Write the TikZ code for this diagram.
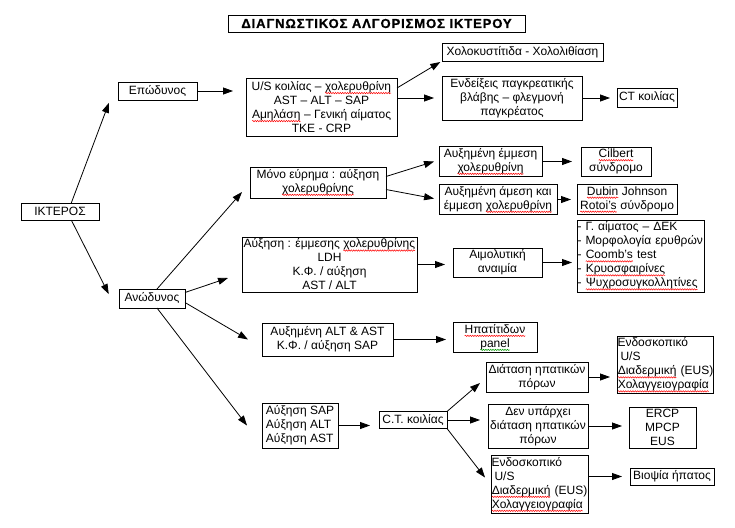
\documentclass[tikz,border=0pt]{standalone}
\usepackage{fontspec}
\setmainfont{Liberation Sans}
\newfontfamily\titlefont[LetterSpace=7, FakeBold=1]{Liberation Sans Bold}
\usepackage{xcolor}
\usepackage{tikz}
\usetikzlibrary{arrows.meta, decorations.pathmorphing}
\newcommand\spk[2][red]{\tikz[baseline=(w.base), every node/.style={}, x=1pt, y=1pt]{%
    \node [inner sep=0pt, outer sep=0pt, draw=none, minimum width=0pt, minimum height=0pt, text width=, align=none] (w) {#2};%
    \draw [#1, line width=0.5pt, decorate, decoration={snake, amplitude=0.7pt, segment length=2.4pt}]
        ([yshift=-2.6pt]w.base west) -- ([yshift=-2.6pt]w.base east);}}
\tikzset{
    box/.style = {
        draw,
        line width = 0.9pt,
        inner sep  = 1.5pt,
        outer sep  = 0pt,
        align      = center,
        font       = \fontsize{12}{14}\selectfont,
    },
    lbox/.style = {
        box,
        inner xsep = 0.5pt,
        align      = left,
    },
    arr/.style = {
        -{Triangle[length=10pt, width=7pt]},
        line width = 0.8pt,
    },
}
\begin{document}
\begin{tikzpicture}[x=1pt, y=-1pt, every node/.style = {box}]
        \useasboundingbox (0, 0) rectangle (735, 527);

        \node at (376.5, 23.5) (title) [minimum width=297pt, minimum height=17pt, font=\titlefont\fontsize{13}{15}\selectfont] {ΔΙΑΓΝΩΣΤΙΚΟΣ ΑΛΓΟΡΙΣΜΟΣ ΙΚΤΕΡΟΥ};

        \node at (60, 211.5) (ikt) [minimum width=78pt, minimum height=17pt] {ΙΚΤΕΡΟΣ};
        \node at (157.5, 91) (epod) [minimum width=79pt, minimum height=18pt] {Επώδυνος};
        \node at (152, 298.5) (anod) [minimum width=66pt, minimum height=19pt] {Ανώδυνος};

        % painful branch
        \node at (321.5, 107) (us) [minimum width=151pt, minimum height=58pt] {U/S κοιλίας – \spk{χολερυθρίνη}\\AST – ALT – SAP\\\spk{Αμηλάση} – Γενική αίματος\\ΤΚΕ - CRP};
        \node at (522.5, 52) (cholo) [minimum width=161pt, minimum height=18pt] {Χολοκυστίτιδα - Χολολιθίαση};
        \node at (512, 98) (pagk) [minimum width=140pt, minimum height=44pt] {Ενδείξεις παγκρεατικής\\βλάβης – φλεγμονή\\παγκρέατος};
        \node at (647, 97.5) (ct) [minimum width=60pt, minimum height=19pt] {CT κοιλίας};

        % painless branch
        \node at (318, 182.5) (mono) [minimum width=136pt, minimum height=31pt] {Μόνο εύρημα : αύξηση\\\spk{χολερυθρίνης}};
        \node at (490.5, 161.5) (emm) [minimum width=103pt, minimum height=29pt] {Αυξημένη έμμεση\\\spk{χολερυθρίνη}};
        \node at (498, 199.5) (amm) [minimum width=118pt, minimum height=27pt] {Αυξημένη άμεση και\\έμμεση \spk{χολερυθρίνη}};
        \node at (616, 161.5) (gilb) [minimum width=70pt, minimum height=29pt] {\spk{Cilbert}\\σύνδρομο};
        \node at (627, 199.5) (dubin) [minimum width=100pt, minimum height=27pt] {\spk{Dubin} Johnson\\\spk{Rotoi's} σύνδρομο};

        \node at (329.5, 264.5) (ayx) [minimum width=175pt, minimum height=55pt] {Αύξηση : έμμεσης \spk{χολερυθρίνης}\\LDH\\Κ.Φ. / αύξηση\\AST / ALT};
        \node at (497.5, 262.5) (aimol) [minimum width=89pt, minimum height=29pt] {Αιμολυτική\\αναιμία};
        \node at (640.5, 256) (tests) [lbox, text width=126pt, minimum height=72pt] {-~Γ.~αίματος~–~ΔΕΚ\\-~Μορφολογία~ερυθρών\\-~\spk{Coomb's}~test\\-~\spk{Κρυοσφαιρίνες}\\-~\spk{Ψυχροσυγκολλητίνες}};

        \node at (327.5, 339.5) (alt) [minimum width=131pt, minimum height=33pt] {Αυξημένη ALT \& AST\\Κ.Φ. / αύξηση SAP};
        \node at (495, 337.5) (hep) [minimum width=84pt, minimum height=29pt] {\spk{Ηπατίτιδων}\\\spk[green!60!black]{panel}};

        \node at (300, 425.5) (sap) [lbox, minimum width=76pt, minimum height=45pt] {Αύξηση SAP\\Αύξηση ALT\\Αύξηση AST};
        \node at (413, 420) (ctk) [minimum width=68pt, minimum height=17pt] {C.T. κοιλίας};

        \node at (537, 377) (diat) [minimum width=102pt, minimum height=30pt] {Διάταση ηπατικών\\πόρων};
        \node at (538, 426) (den) [minimum width=100pt, minimum height=44pt] {Δεν υπάρχει\\διάταση ηπατικών\\πόρων};
        \node at (539.5, 484.5) (endo2) [lbox, text width=96pt, minimum height=55pt] {Ενδοσκοπικό\\\hspace{3pt}U/S\\\spk{Διαδερμική}~(EUS)\\\spk{Χολαγγειογραφία}};

        \node at (665, 365) (endo1) [lbox, text width=95pt, minimum height=54pt] {Ενδοσκοπικό\\\hspace{3pt}U/S\\\spk{Διαδερμική}~(EUS)\\\spk{Χολαγγειογραφία}};
        \node at (662.5, 427.5) (ercp) [minimum width=67pt, minimum height=41pt] {ERCP\\MPCP\\EUS};
        \node at (672, 476.5) (biop) [minimum width=84pt, minimum height=17pt] {Βιοψία ήπατος};

        \draw [arr, shorten >=3pt] (ikt.37) -- ([xshift=-8pt]epod.south west);
        \draw [arr, shorten >=5pt] (ikt.-37) -- ([xshift=-8pt]anod.west);

        \draw [arr, shorten >=13pt] (epod.east) -- (epod.east -| us.west);
        \draw [arr, shorten >=2pt] ([yshift=19pt]us.east) -- (cholo.south west);
        \draw [arr, shorten >=8pt] (us.east |- pagk.west) -- (pagk.west);
        \draw [arr, shorten >=7pt] (pagk.east) -- (pagk.east -| ct.west);

        \draw [arr] ([xshift=5pt]anod.north) -- ([xshift=-8pt, yshift=6pt]mono.south west);
        \draw [arr] ([yshift=6pt]anod.east) -- ([xshift=-14pt, yshift=14pt]ayx.south west);
        \draw [arr] ([yshift=-4pt]anod.east) -- ([xshift=-14pt]alt.west);
        \draw [arr] ([xshift=5pt]anod.south) -- ([xshift=-15pt]sap.west);

        \draw [arr] ([yshift=6pt]mono.east) -- ([xshift=-5pt]emm.west);
        \draw [arr, shorten >=5pt] ([yshift=-7pt]mono.east) -- (amm.west);
        \draw [arr, shorten >=9pt] (emm.east) -- (gilb.west);
        \draw [arr, shorten >=6pt] (amm.east) -- (dubin.west);

        \draw [arr, shorten >=8pt] (ayx.east) -- (ayx.east -| aimol.west);
        \draw [arr, shorten >=5pt] (aimol.east) -- (aimol.east -| tests.west);
        \draw [arr, shorten >=7pt] (alt.east) -- (alt.east -| hep.west);

        \draw [arr, shorten >=9pt] (sap.east) -- (sap.east -| ctk.west);
        \draw [arr] (ctk.north east) -- ([xshift=-6pt, yshift=9pt]diat.south west);
        \draw [arr, shorten >=8pt] (ctk.east) -- (ctk.east -| den.west);
        \draw [arr] (ctk.south east) -- ([xshift=-6pt, yshift=7pt]endo2.west);

        \draw [arr, shorten >=7pt] (diat.east) -- (diat.east -| endo1.west);
        \draw [arr, shorten >=7pt] (den.east) -- (den.east -| ercp.west);
        \draw [arr, shorten >=8pt] (endo2.east |- biop.west) -- (biop.west);

    \end{tikzpicture}
\end{document}
